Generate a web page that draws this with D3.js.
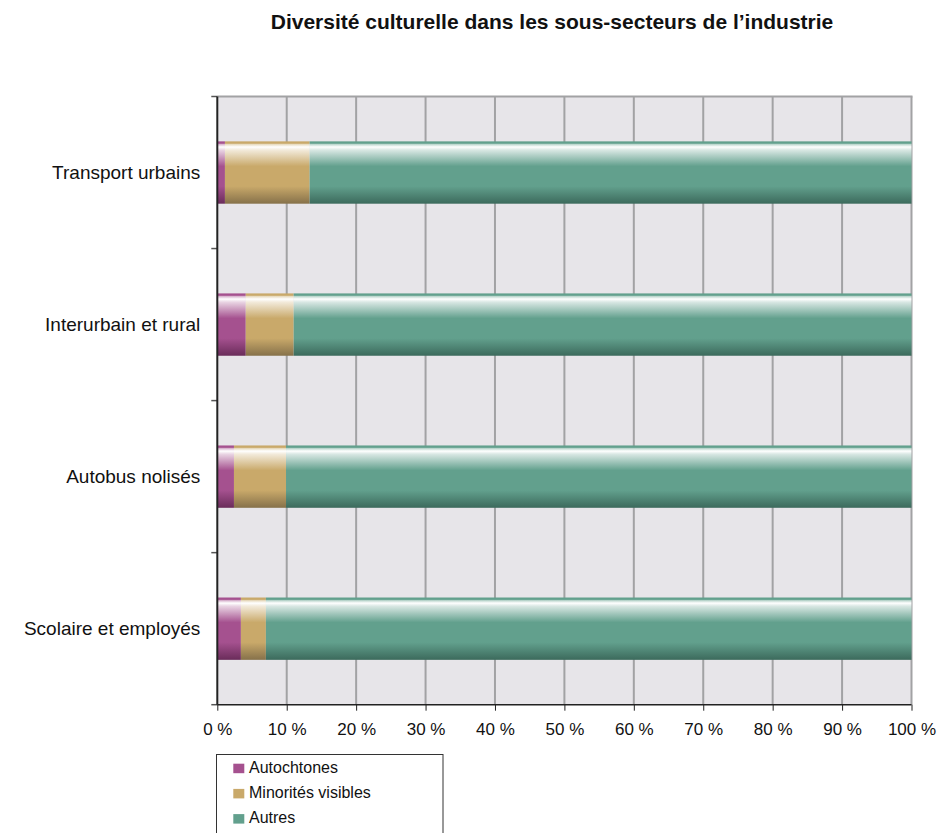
<!DOCTYPE html>
<html><head><meta charset="utf-8">
<script src="https://cdn.jsdelivr.net/npm/d3@7/dist/d3.min.js"></script>
<style>body{margin:0;background:#fff;} svg{display:block;font-family:"Liberation Sans",Arial,sans-serif;}</style>
</head><body>
<svg id="c" width="943" height="833"></svg>
<script>
const categories = ["Transport urbains", "Interurbain et rural", "Autobus nolisés", "Scolaire et employés"];
const seriesNames = ["Autochtones", "Minorités visibles", "Autres"];
const autochtones = [1.1, 4.1, 2.4, 3.4];
const minorites = [12.2, 6.9, 7.5, 3.6];
const autres = [86.7, 89.0, 90.1, 93.0];
const xTicks = [0,10,20,30,40,50,60,70,80,90,100];
const colors = ["#a5518f", "#c9a96a", "#62a08d"];
const darks = ["#6a2c5a", "#86714a", "#3c6a5c"];

const svg = d3.select("#c");
const m = {l:217.3, r:911.5, t:96.5, b:704.7};
const x = d3.scaleLinear().domain([0,100]).range([m.l, m.r]);
const y = d3.scaleBand().domain(categories).range([m.t, m.b]).paddingInner(0.59).paddingOuter(0.295);

const defs = svg.append("defs");
colors.forEach((c,i)=>{
  const g = defs.append("linearGradient").attr("id","g"+i).attr("x1",0).attr("y1",0).attr("x2",0).attr("y2",1);
  const stops = [[0,c],[0.03,c],[0.05,d3.interpolateRgb(c,"#fff")(0.6)],[0.09,"#fff"],[0.14,d3.interpolateRgb(c,"#fff")(0.75)],[0.4,c],[0.72,c],[1,darks[i]]];
  stops.forEach(s=>g.append("stop").attr("offset",s[0]).attr("stop-color",s[1]));
});

svg.append("text").attr("x",552).attr("y",29).attr("text-anchor","middle")
  .attr("font-weight","bold").attr("font-size",21).attr("fill","#111")
  .text("Diversité culturelle dans les sous-secteurs de l’industrie");

svg.append("rect").attr("x",m.l).attr("y",m.t).attr("width",m.r-m.l).attr("height",m.b-m.t).attr("fill","#e7e5e9");

svg.append("g").selectAll("line").data(xTicks.slice(1)).join("line")
  .attr("x1",d=>x(d)).attr("x2",d=>x(d)).attr("y1",m.t).attr("y2",m.b)
  .attr("stroke","#a2a2a4").attr("stroke-width",2);
svg.append("line").attr("x1",m.l).attr("x2",m.r+1).attr("y1",m.t).attr("y2",m.t).attr("stroke","#a2a2a4").attr("stroke-width",2);

const data = categories.map((c,i)=>({cat:c, Autochtones:autochtones[i], "Minorités visibles":minorites[i], Autres:autres[i]}));
const stack = d3.stack().keys(seriesNames)(data);
svg.append("g").selectAll("g").data(stack).join("g")
  .attr("fill",(d,i)=>`url(#g${i})`)
  .selectAll("rect").data(d=>d).join("rect")
  .attr("x",d=>x(d[0])).attr("width",d=>x(d[1])-x(d[0]))
  .attr("y",d=>y(d.data.cat)).attr("height",y.bandwidth());

const yAxis = d3.axisLeft(y).tickSize(0).tickPadding(17);
const gy = svg.append("g").attr("transform",`translate(${m.l},0)`).call(yAxis);
gy.select(".domain").remove();
gy.selectAll("text").attr("font-size",19).attr("fill","#111").attr("font-family","Liberation Sans, Arial, sans-serif");
const edges = d3.range(categories.length+1).map(i=>m.t + i*(m.b-m.t)/categories.length);
svg.append("g").selectAll("line").data(edges).join("line")
  .attr("x1",m.l-6).attr("x2",m.l).attr("y1",d=>d).attr("y2",d=>d).attr("stroke","#555").attr("stroke-width",1.5);
svg.append("line").attr("x1",m.l).attr("x2",m.l).attr("y1",m.t).attr("y2",m.b).attr("stroke","#222").attr("stroke-width",2);

const xAxis = d3.axisBottom(x).tickValues(xTicks).tickFormat(d=>d+" %").tickSize(6).tickPadding(12.5);
const gx = svg.append("g").attr("transform",`translate(0,${m.b})`).call(xAxis);
gx.select(".domain").attr("stroke","#222").attr("stroke-width",1.5).attr("d",`M${m.l},0H${m.r}`);
gx.selectAll(".tick line").attr("stroke","#222");
gx.selectAll("text").attr("font-size",17).attr("fill","#111").attr("font-family","Liberation Sans, Arial, sans-serif");

const lg = svg.append("g");
lg.append("rect").attr("x",216.5).attr("y",754.5).attr("width",226.5).attr("height",82).attr("fill","#fff").attr("stroke","#333").attr("stroke-width",1);
seriesNames.forEach((s,i)=>{
  const yy = 772.7 + i*25.2;
  lg.append("rect").attr("x",233.3).attr("y",yy-9).attr("width",11).attr("height",9.5).attr("fill",colors[i]);
  lg.append("text").attr("x",249).attr("y",yy).attr("font-size",16).attr("fill","#111").text(s);
});
</script>
</body></html>
